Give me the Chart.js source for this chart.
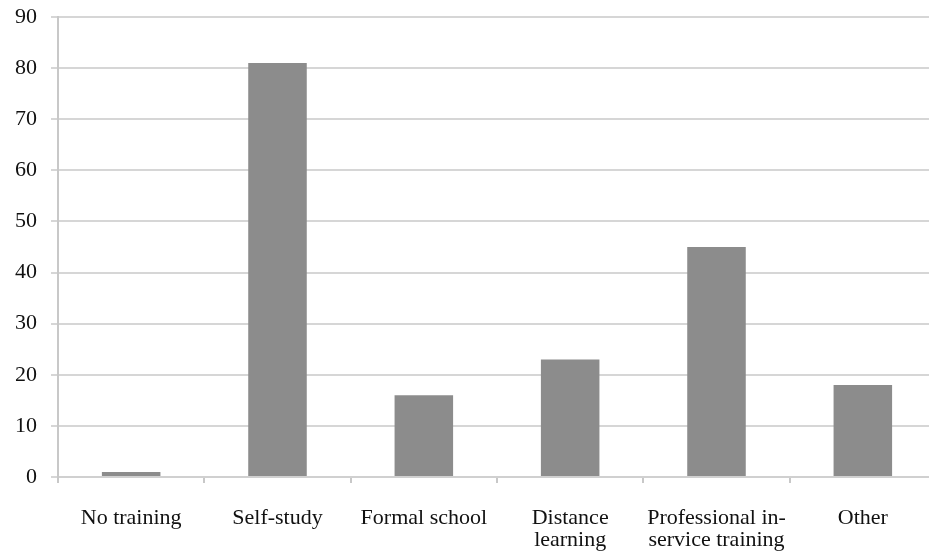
<!DOCTYPE html>
<html>
<head>
<meta charset="utf-8">
<script src="https://cdn.jsdelivr.net/npm/chart.js@4/dist/chart.umd.min.js"></script>
<style>
html,body{margin:0;padding:0;background:#fff;overflow:hidden;}
#wrap{position:relative;width:937px;height:556px;}
</style>
</head>
<body>
<div id="wrap"><canvas id="c"></canvas></div>
<script>
const categories = ["No training", "Self-study", "Formal school", ["Distance", "learning"], ["Professional in-", "service training"], "Other"];
const values = [1, 81, 16, 23, 45, 18];
const yTicks = [0, 10, 20, 30, 40, 50, 60, 70, 80, 90];

const xFont = {family: "'Liberation Serif', 'Times New Roman', serif", size: 22, lineHeight: 1.0};
const yFont = {family: "'Liberation Serif', 'Times New Roman', serif", size: 22, lineHeight: 1.3};

new Chart(document.getElementById('c'), {
  type: 'bar',
  data: {
    labels: categories,
    datasets: [{
      data: values,
      backgroundColor: '#8c8c8c',
      borderWidth: 0,
      barPercentage: 0.4,
      categoryPercentage: 1.0
    }]
  },
  options: {
    responsive: true,
    maintainAspectRatio: false,
    animation: false,
    layout: {padding: {top: 17, right: 1, left: 0, bottom: 0}},
    plugins: {legend: {display: false}, tooltip: {enabled: false}},
    scales: {
      x: {
        offset: true,
        grid: {display: true, offset: true, drawOnChartArea: false, drawTicks: true, tickLength: 6, color: '#c8c8c8', lineWidth: 2},
        border: {display: true, color: '#d0d0d0', width: 2},
        ticks: {color: '#111', font: xFont, padding: 24, maxRotation: 0, autoSkip: false},
        afterFit: (s) => { s.height = 79; s.paddingLeft = 0; s.paddingRight = 0; }
      },
      y: {
        min: 0, max: 90,
        afterBuildTicks: (s) => { s.ticks = yTicks.map(v => ({value: v})); },
        grid: {color: '#d6d6d6', lineWidth: 2, tickLength: 7, drawTicks: true},
        border: {display: true, color: '#c8c8c8', width: 2},
        ticks: {color: '#111', font: yFont, padding: 14},
        afterFit: (s) => { s.width = 58; s.paddingTop = 0; s.paddingBottom = 0; }
      }
    }
  }
});
</script>
</body>
</html>
